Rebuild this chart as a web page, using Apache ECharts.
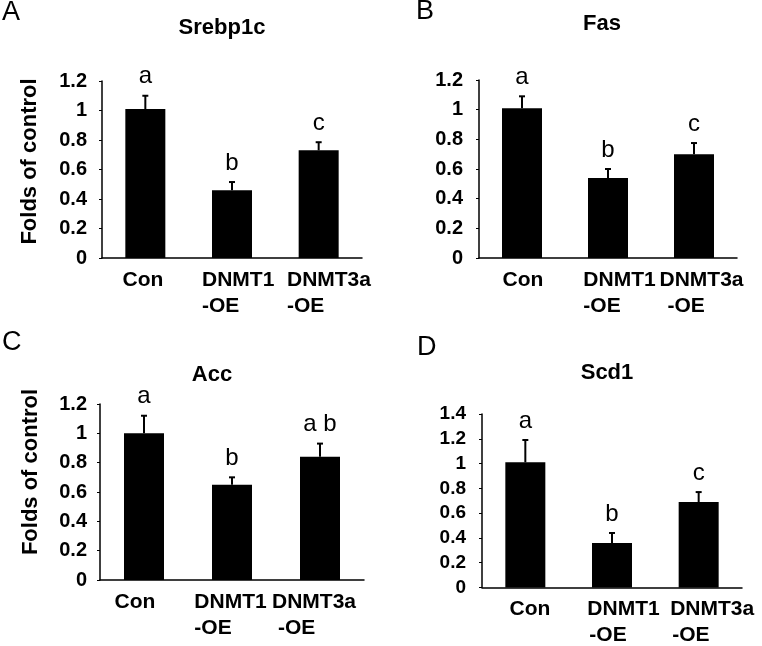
<!DOCTYPE html>
<html>
<head>
<meta charset="utf-8">
<script src="https://cdn.jsdelivr.net/npm/echarts@6/dist/echarts.min.js"></script>
<style>html,body{margin:0;padding:0;background:#fff}#c{width:762px;height:646px}</style>
</head>
<body>
<div id="c"></div>
<script>
// ---------- data ----------
const categories = ['Con', 'DNMT1-OE', 'DNMT3a-OE'];
const panelNames = ['Srebp1c', 'Fas', 'Acc', 'Scd1'];
const panelLetters = ['A', 'B', 'C', 'D'];
const yAxisName = 'Folds of control';

const srebp1cMean = [1.01, 0.46, 0.73];
const srebp1cErr  = [0.09, 0.055, 0.055];
const srebp1cSig  = ['a', 'b', 'c'];

const fasMean = [1.01, 0.54, 0.70];
const fasErr  = [0.08, 0.06, 0.075];
const fasSig  = ['a', 'b', 'c'];

const accMean = [1.00, 0.65, 0.84];
const accErr  = [0.12, 0.05, 0.09];
const accSig  = ['a', 'b', 'a b'];

const scd1Mean = [1.01, 0.36, 0.69];
const scd1Err  = [0.18, 0.08, 0.08];
const scd1Sig  = ['a', 'b', 'c'];

const yMaxes = [1.2, 1.2, 1.2, 1.4];
const yInterval = 0.2;

// ---------- layout ----------
const FF = '"Liberation Sans", Arial, Helvetica, sans-serif';
const panels = [
  {mean: srebp1cMean, err: srebp1cErr, sig: srebp1cSig},
  {mean: fasMean, err: fasErr, sig: fasSig},
  {mean: accMean, err: accErr, sig: accSig},
  {mean: scd1Mean, err: scd1Err, sig: scd1Sig}
];
const layouts = [
  {grid:{left:102, top:81, width:260, height:177}, tickFont:20, tickMargin:15, yName:true, nameGap:61, nameShift:16, title:[222,17], letter:[2,-1], lab:[[-2.3,0],[6.2,0],[10.3,0]]},
  {grid:{left:479, top:80, width:258, height:178}, tickFont:20, tickMargin:16, yName:false, title:[602,13], letter:[416,-1.5], lab:[[1,0],[11.5,0],[7.5,8]]},
  {grid:{left:100, top:404, width:264, height:176}, tickFont:20, tickMargin:13, yName:true, nameGap:58, nameShift:40, title:[212,364], letter:[2,329], lab:[[-9,0],[-1.5,0],[-6,6]]},
  {grid:{left:482, top:414, width:260, height:175}, tickFont:19, tickMargin:16, yName:false, title:[607,362], letter:[417,334.5], lab:[[4.7,0],[11.5,2],[13.5,2]]}
];

const labelFont = {fontSize:21, fontWeight:'bold', fontFamily:FF, color:'#000', lineHeight:26};

function buildRich(lab) {
  const rich = {};
  lab.forEach(([d, k], i) => {
    rich['a' + i] = Object.assign({align:'left', padding: d >= 0 ? [0,0,0,2*d] : [0,-2*d,0,0]}, labelFont);
    rich['b' + i] = Object.assign({align:'left', padding: [0,0,0,(d >= 0 ? 2*d : 0) + k]}, labelFont);
  });
  return rich;
}

const grids = [], xAxes = [], yAxes = [], series = [], titles = [], graphics = [];

layouts.forEach((L, p) => {
  const P = panels[p];
  grids.push(Object.assign({containLabel:false}, L.grid));
  xAxes.push({
    type:'category', gridIndex:p, data:categories,
    axisLine:{show:true, lineStyle:{color:'#000', width:1.5}},
    axisTick:{show:false},
    axisLabel:{
      interval:0, margin:9, rich: buildRich(L.lab),
      formatter:(v, i) => {
        const parts = v.split('-');
        if (parts.length === 1) return '{a' + i + '|' + v + '}';
        return '{a' + i + '|' + parts[0] + '}\n{b' + i + '|-' + parts[1] + '}';
      }
    }
  });
  const ya = {
    type:'value', gridIndex:p, min:0, max:yMaxes[p], interval:yInterval,
    axisLine:{show:true, lineStyle:{color:'#000', width:1.5}},
    axisTick:{show:true, length:3, lineStyle:{color:'#000', width:1}},
    splitLine:{show:false},
    axisLabel:{margin:L.tickMargin, fontSize:L.tickFont, fontWeight:'bold', fontFamily:FF, color:'#000'}
  };
  if (L.yName) {
    Object.assign(ya, {
      name:yAxisName, nameLocation:'middle', nameRotate:90, nameGap:L.nameGap,
      nameTextStyle:{fontSize:22, fontWeight:'bold', fontFamily:FF, color:'#000', padding:[0,0,0,L.nameShift]}
    });
  }
  yAxes.push(ya);

  series.push({
    type:'bar', xAxisIndex:p, yAxisIndex:p, data:P.mean, barWidth:40,
    itemStyle:{color:'#000'}, silent:true
  });
  series.push({
    type:'custom', xAxisIndex:p, yAxisIndex:p, silent:true,
    data:P.mean.map((m, i) => [i, m, m + P.err[i]]),
    encode:{x:0, y:2},
    renderItem:(params, api) => {
      const i = api.value(0), m = api.value(1), t = api.value(2);
      const b = api.coord([i, m]);
      const e = api.coord([i, t]);
      const cap = 3;
      return {type:'group', children:[
        {type:'line', shape:{x1:b[0], y1:b[1], x2:e[0], y2:e[1]}, style:{stroke:'#000', lineWidth:2}},
        {type:'line', shape:{x1:e[0]-cap, y1:e[1], x2:e[0]+cap, y2:e[1]}, style:{stroke:'#000', lineWidth:2}},
        {type:'text', x:e[0], y:e[1]-7, style:{text:P.sig[params.dataIndex], fill:'#000',
          font:'normal 24px ' + FF, textAlign:'center', textVerticalAlign:'bottom'}}
      ]};
    }
  });

  titles.push({
    text:panelNames[p], left:L.title[0], top:L.title[1], textAlign:'center', padding:0,
    textStyle:{fontSize:22, fontWeight:'bold', fontFamily:FF, color:'#000'}
  });
  graphics.push({
    type:'text', left:L.letter[0], top:L.letter[1],
    style:{text:panelLetters[p], fill:'#000', font:'normal 27px ' + FF}
  });
});

const chart = echarts.init(document.getElementById('c'), null, {renderer:'canvas', width:762, height:646});
chart.setOption({
  backgroundColor:'#fff',
  animation:false,
  title:titles,
  grid:grids,
  xAxis:xAxes,
  yAxis:yAxes,
  series:series,
  graphic:graphics
});
</script>
</body>
</html>
